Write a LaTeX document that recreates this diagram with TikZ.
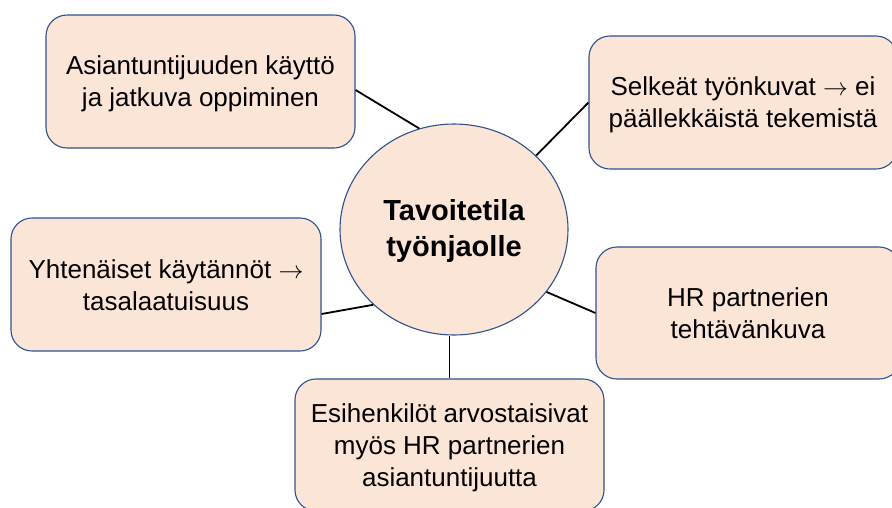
\documentclass[tikz,border=0pt]{standalone}
\usepackage{fontspec}
\setmainfont{Liberation Sans}
\usetikzlibrary{shapes.geometric,calc}
\definecolor{boxfill}{HTML}{FBE5D6}
\definecolor{boxline}{HTML}{2F528F}
\newcommand\boxstrut{\rule[-5pt]{0pt}{29pt}}
\newcommand\hubstrut{\rule[-4pt]{0pt}{29pt}}
\newcommand\thinarrow{{\fontsize{26}{32}\selectfont$\rightarrow$}}
\tikzset{
  topic/.style={draw=boxline, line width=1.1pt, fill=boxfill, rectangle, rounded corners=21pt,
    inner sep=0pt, align=center, text=black, font=\fontsize{26}{32}\selectfont},
  hub/.style={draw=boxline, line width=1.1pt, fill=boxfill, ellipse, inner sep=0pt,
    minimum width=228pt, minimum height=211pt, align=center,
    font=\fontsize{29}{36}\selectfont\bfseries},
  link/.style={draw=black, line width=1.8pt}
}
\begin{document}
\begin{tikzpicture}[x=1pt,y=-1pt]
\clip (0,0) rectangle (892,507);
\fill[white] (0,0) rectangle (892,507);
\node[hub] (c) at (454,229.5) {\hubstrut Tavoitetila\\\hubstrut työnjaolle};
\node[topic, minimum width=309pt, minimum height=133pt] (b1) at (200.5,81.5)
  {\boxstrut Asiantuntijuuden käyttö\\\boxstrut ja jatkuva oppiminen};
\node[topic, minimum width=308pt, minimum height=133pt] (b2) at (743,102.5)
  {\boxstrut Selkeät työnkuvat \thinarrow{} ei\\\boxstrut päällekkäistä tekemistä};
\node[topic, minimum width=310pt, minimum height=133pt] (b3) at (166,284.5)
  {\boxstrut Yhtenäiset käytännöt \thinarrow\\\boxstrut tasalaatuisuus};
\node[topic, minimum width=309pt, minimum height=132pt] (b4) at (449.5,445)
  {\boxstrut Esihenkilöt arvostaisivat\\\boxstrut myös HR partnerien\\\boxstrut asiantuntijuutta};
\node[topic, minimum width=304pt, minimum height=132pt] (b5) at (748,313)
  {\boxstrut HR partnerien\\\boxstrut tehtävänkuva};
\draw[link] ($(b1.east)+(0,8.5)$) -- (c.109);
\draw[link] (b2.west) -- (c.42);
\draw[link] ($(b3.east)+(0,29.5)$) -- (c.223);
\draw[link] (b4.north) -- (b4.north |- c.south);
\draw[link] (b5.west) -- (c.326);
\end{tikzpicture}
\end{document}
